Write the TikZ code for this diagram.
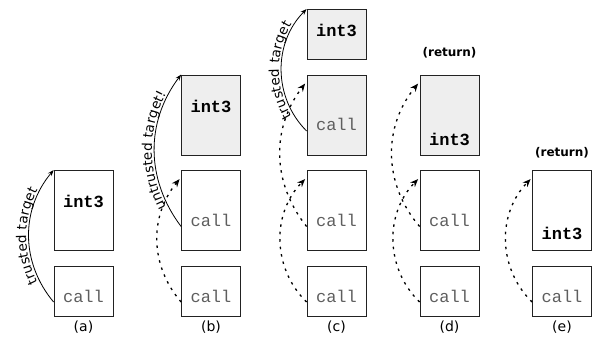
\documentclass[tikz,border=0pt]{standalone}
\usepackage{fontspec}
\setmainfont{DejaVu Sans}
\newfontfamily\codefont{Liberation Mono}
\usetikzlibrary{arrows.meta,decorations.text,calc}
\definecolor{boxfill}{HTML}{EEEEEE}
\definecolor{callgray}{HTML}{5E5E5E}
\definecolor{edgecol}{HTML}{222222}
\tikzset{
  box/.style={draw=edgecol, line width=0.8pt, minimum width=59pt, inner sep=0pt, anchor=center},
  tallbox/.style={box, minimum height=80pt},
  shortbox/.style={box, minimum height=50pt},
  shaded/.style={fill=boxfill},
  calltext/.style={font=\codefont\fontsize{17}{17}\selectfont, text=callgray, anchor=base, inner sep=0pt},
  inttext/.style={font=\codefont\bfseries\fontsize{17}{17}\selectfont, anchor=base, inner sep=0pt},
  captext/.style={font=\fontsize{14}{14}\selectfont, anchor=base, inner sep=0pt},
  rettext/.style={font=\bfseries\fontsize{12}{12}\selectfont, anchor=base, inner sep=0pt},
  callarrow/.style={line width=0.8pt, -{Stealth[length=6pt,width=4.5pt]}},
  retarrow/.style={line width=1.3pt, dash pattern=on 2.5pt off 5pt, -{Stealth[length=8pt,width=6.5pt]}},
  arclabel/.style={decorate, decoration={text along path, text align=center, raise=2.5pt, text={|\fontsize{13.5}{13.5}\selectfont|#1}}}
}
\begin{document}
\begin{tikzpicture}[x=1pt,y=-1pt]
\useasboundingbox (0,0) rectangle (592,339);
% column (a)
\node[shortbox] (a1) at (83.5,291) {};
\node[tallbox] (a2) at (83.5,210.5) {};
\node[calltext] (a1t) at (83.5,302) {call};
\node[inttext] (a2t) at (83.5,208) {int3};
\node[captext] (acap) at (83.5,331) {(a)};
\draw[callarrow] (a1t.base -| a1.west) to[bend left=40] (a2.north west);
\path[arclabel={trusted target}] (a1t.base -| a1.west) to[bend left=40] (a2.north west);
% column (b)
\node[shortbox] (b1) at (211,291) {};
\node[tallbox] (b2) at (211,210.5) {};
\node[tallbox,shaded] (b3) at (211,115) {};
\node[calltext] (b1t) at (211,302) {call};
\node[calltext] (b2t) at (211,226.5) {call};
\node[inttext] (b3t) at (211,113) {int3};
\node[captext] (bcap) at (211,331) {(b)};
\draw[callarrow] (b2t.base -| b2.west) to[bend left=37] (b3.north west);
\path[arclabel={untrusted target!}] (b2t.base -| b2.west) to[bend left=37] (b3.north west);
\draw[retarrow] (b1t.base -| b1.west) to[bend left=40] ($(b2.north west)+(-1.5,9)$);
% column (c)
\node[shortbox] (c1) at (336.5,291) {};
\node[tallbox] (c2) at (336.5,210.5) {};
\node[tallbox,shaded] (c3) at (336.5,115) {};
\node[shortbox,shaded] (c4) at (336.5,34.5) {};
\node[calltext] (c1t) at (336.5,302) {call};
\node[calltext] (c2t) at (336.5,226.5) {call};
\node[calltext] (c3t) at (336.5,131) {call};
\node[inttext] (c4t) at (336.5,37) {int3};
\node[captext] (ccap) at (336.5,331) {(c)};
\draw[callarrow] (c3t.base -| c3.west) to[bend left=45] (c4.north west);
\path[arclabel={trusted target}] (c3t.base -| c3.west) to[bend left=45] (c4.north west);
\draw[retarrow] (c1t.base -| c1.west) to[bend left=45] ($(c2.north west)+(-1.5,9)$);
\draw[retarrow] (c2t.base -| c2.west) to[bend left=38] ($(c3.north west)+(-1.5,9)$);
% column (d)
\node[shortbox] (d1) at (449.5,291) {};
\node[tallbox] (d2) at (449.5,210.5) {};
\node[tallbox,shaded] (d3) at (449.5,115) {};
\node[calltext] (d1t) at (449.5,302) {call};
\node[calltext] (d2t) at (449.5,226.5) {call};
\node[inttext] (d3t) at (449.5,146) {int3};
\node[rettext] (dret) at (449.5,57) {(return)};
\node[captext] (dcap) at (449.5,331) {(d)};
\draw[retarrow] (d1t.base -| d1.west) to[bend left=45] ($(d2.north west)+(-1.5,9)$);
\draw[retarrow] (d2t.base -| d2.west) to[bend left=40] ($(d3.north west)+(-1.5,9)$);
% column (e)
\node[shortbox] (e1) at (562,291) {};
\node[tallbox] (e2) at (562,210.5) {};
\node[calltext] (e1t) at (562,302) {call};
\node[inttext] (e2t) at (562,240) {int3};
\node[rettext] (eret) at (562,157) {(return)};
\node[captext] (ecap) at (562,331) {(e)};
\draw[retarrow] (e1t.base -| e1.west) to[bend left=45] ($(e2.north west)+(-1.5,9)$);
\end{tikzpicture}
\end{document}
